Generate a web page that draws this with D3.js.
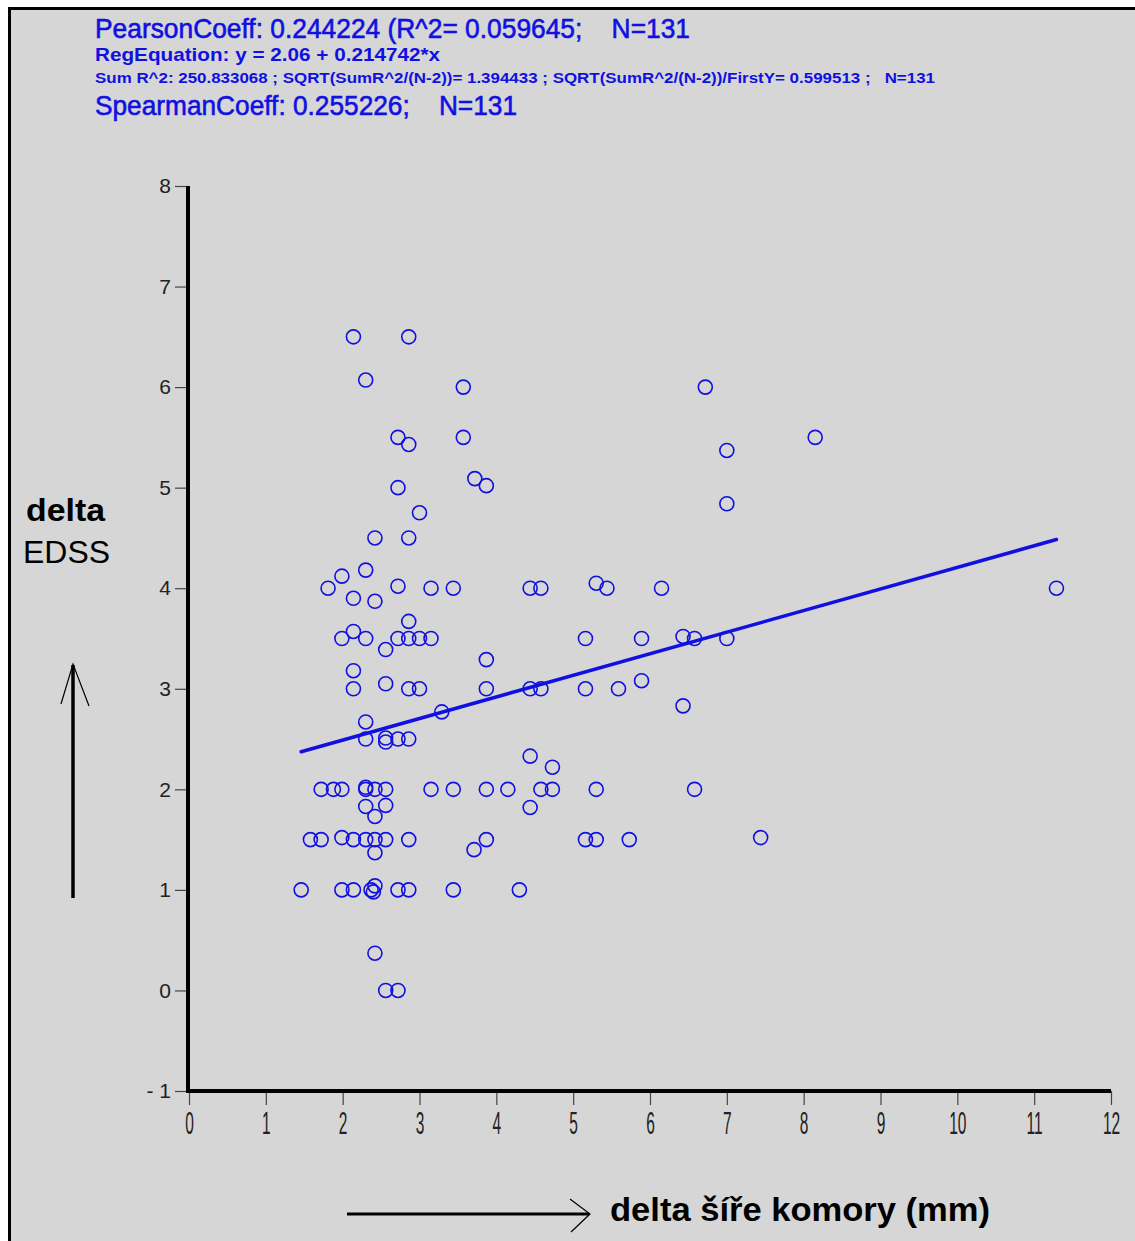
<!DOCTYPE html>
<html>
<head>
<meta charset="utf-8">
<script src="https://cdn.jsdelivr.net/npm/d3@7"></script>
<style>
  html, body { margin: 0; padding: 0; background: #ffffff; }
  svg { display: block; }
</style>
</head>
<body>
<script>
// ---- data ----
const deltaWidth = [
  2.14, 2.86, 2.30, 3.57, 6.72,
  2.72, 2.86, 3.57, 8.15, 7.00,
  3.72, 3.87, 2.72, 3.00, 7.00,
  2.42, 2.86, 2.30, 1.99, 1.81,
  2.14, 2.42, 2.72, 3.15, 3.44,
  4.44, 4.58, 5.30, 5.44, 6.15, 11.29,
  2.14, 1.99, 2.30, 2.86, 2.72, 2.86, 3.00, 3.15, 2.56,
  5.16, 5.89, 6.43, 6.58, 7.00,
  2.14, 2.14, 2.56, 2.86, 3.00,
  3.87, 3.87, 4.44, 4.58, 5.16, 5.59, 5.89, 6.43,
  3.29, 2.30, 2.30, 2.56, 2.56, 2.72, 2.86,
  4.44, 4.73,
  1.72, 1.88, 1.99, 2.30, 2.30, 2.42, 2.56, 3.15, 3.44, 3.87, 4.15, 4.58, 4.73, 5.30, 6.58,
  2.30, 2.56, 2.42, 4.44,
  1.58, 1.72, 1.99, 2.14, 2.30, 2.42, 2.56, 2.86, 2.42, 3.87, 3.71, 5.16, 5.30, 5.73, 7.44,
  1.46, 1.99, 2.14, 2.37, 2.42, 2.40, 2.72, 2.86, 3.44, 4.30,
  2.42, 2.56, 2.72
];
const deltaEDSS = [
  6.50, 6.50, 6.07, 6.00, 6.00,
  5.50, 5.43, 5.50, 5.50, 5.37,
  5.09, 5.02, 5.00, 4.75, 4.84,
  4.50, 4.50, 4.18, 4.12, 4.00,
  3.90, 3.87, 4.02, 4.00, 4.00,
  4.00, 4.00, 4.05, 4.00, 4.00, 4.00,
  3.57, 3.50, 3.50, 3.67, 3.50, 3.50, 3.50, 3.50, 3.39,
  3.50, 3.50, 3.52, 3.50, 3.50,
  3.18, 3.00, 3.05, 3.00, 3.00,
  3.29, 3.00, 3.00, 3.00, 3.00, 3.00, 3.08, 2.83,
  2.77, 2.67, 2.50, 2.51, 2.47, 2.50, 2.50,
  2.33, 2.22,
  2.00, 2.00, 2.00, 2.02, 2.00, 2.00, 2.00, 2.00, 2.00, 2.00, 2.00, 2.00, 2.00, 2.00, 2.00,
  1.83, 1.84, 1.73, 1.82,
  1.50, 1.50, 1.52, 1.50, 1.50, 1.50, 1.50, 1.50, 1.37, 1.50, 1.40, 1.50, 1.50, 1.50, 1.52,
  1.00, 1.00, 1.00, 1.00, 1.04, 0.98, 1.00, 1.00, 1.00, 1.00,
  0.37, 0.00, 0.00
];
const regIntercept = 2.06;
const regSlope = 0.214742;
const regRange = [1.46, 11.29];

const xTicks = [0,1,2,3,4,5,6,7,8,9,10,11,12];
const yTicks = [-1,0,1,2,3,4,5,6,7,8];

const headerLines = [
  "PearsonCoeff: 0.244224 (R^2= 0.059645;    N=131",
  "RegEquation: y = 2.06 + 0.214742*x",
  "Sum R^2: 250.833068 ; SQRT(SumR^2/(N-2))= 1.394433 ; SQRT(SumR^2/(N-2))/FirstY= 0.599513 ;   N=131",
  "SpearmanCoeff: 0.255226;    N=131"
];
const yLabelLines = ["delta", "EDSS"];
const xLabel = "delta šíře komory (mm)";

// ---- drawing ----
const W = 1135, H = 1241;
const svg = d3.select("body").append("svg").attr("width", W).attr("height", H);

svg.append("rect").attr("x", 0).attr("y", 0).attr("width", W).attr("height", H).attr("fill", "#ffffff");
svg.append("rect").attr("x", 9.5).attr("y", 8.5).attr("width", W + 20).attr("height", H + 20)
  .attr("fill", "#d6d6d6").attr("stroke", "#000").attr("stroke-width", 3);

const x = d3.scaleLinear().domain([0, 12]).range([189, 1111]);
const y = d3.scaleLinear().domain([-1, 8]).range([1091, 186]);

const blue = "#1010e0";

// header
const hdr = [
  {t: headerLines[0], y: 38, fs: 28, w: "normal", len: 595, sw: 0.6},
  {t: headerLines[1], y: 61, fs: 19, w: "bold", len: 345, sw: 0},
  {t: headerLines[2], y: 83, fs: 14, w: "bold", len: 840, sw: 0},
  {t: headerLines[3], y: 115, fs: 28, w: "normal", len: 422, sw: 0.6}
];
svg.append("g").selectAll("text").data(hdr).join("text")
  .attr("x", 95).attr("y", d => d.y)
  .attr("font-family", "Liberation Sans, Arial, sans-serif")
  .attr("font-size", d => d.fs).attr("font-weight", d => d.w)
  .attr("fill", blue).attr("stroke", blue).attr("stroke-width", d => d.sw)
  .attr("textLength", d => d.len).attr("lengthAdjust", "spacingAndGlyphs")
  .attr("xml:space", "preserve")
  .style("white-space", "pre")
  .text(d => d.t);

// y axis
const yAxis = svg.append("g").attr("transform", `translate(${x(0)},0)`)
  .call(d3.axisLeft(y).tickValues(yTicks).tickSize(14).tickSizeOuter(0).tickPadding(4).tickFormat(d => d < 0 ? "- " + Math.abs(d) : d));
yAxis.select(".domain").remove();
yAxis.selectAll(".tick line").attr("stroke", "#444").attr("stroke-width", 1.2);
yAxis.selectAll(".tick text").attr("font-family", "Liberation Sans, Arial, sans-serif")
  .attr("font-size", 21).attr("fill", "#222");

// x axis
const xAxis = svg.append("g").attr("transform", `translate(0,${y(-1)})`)
  .call(d3.axisBottom(x).tickValues(xTicks).tickSize(14).tickSizeOuter(0).tickPadding(7));
xAxis.select(".domain").remove();
xAxis.selectAll(".tick line").attr("stroke", "#444").attr("stroke-width", 1.2);
xAxis.selectAll(".tick text").attr("font-family", "Liberation Sans, Arial, sans-serif")
  .attr("font-size", 31).attr("fill", "#222")
  .attr("transform", "scale(0.5,1)");

// thick axis lines
svg.append("line").attr("x1", x(0) - 1).attr("x2", x(0) - 1).attr("y1", y(8)).attr("y2", y(-1) + 2)
  .attr("stroke", "#000").attr("stroke-width", 4);
svg.append("line").attr("x1", x(0) - 1).attr("x2", x(12)).attr("y1", y(-1)).attr("y2", y(-1))
  .attr("stroke", "#000").attr("stroke-width", 4);

// regression line
const regLine = d3.line().x(d => x(d)).y(d => y(regIntercept + regSlope * d));
svg.append("path").attr("d", regLine(regRange)).attr("fill", "none")
  .attr("stroke", blue).attr("stroke-width", 3.5).attr("stroke-linecap", "round");

// points
const pts = deltaWidth.map((v, i) => [v, deltaEDSS[i]]);
svg.append("g").selectAll("circle").data(pts).join("circle")
  .attr("cx", d => x(d[0])).attr("cy", d => y(d[1])).attr("r", 7)
  .attr("fill", "none").attr("stroke", blue).attr("stroke-width", 1.6);

// y label
svg.append("text").attr("x", 26).attr("y", 521)
  .attr("font-family", "Liberation Sans, Arial, sans-serif").attr("font-size", 31).attr("font-weight", "bold")
  .attr("fill", "#000").attr("textLength", 79).attr("lengthAdjust", "spacingAndGlyphs").text(yLabelLines[0]);
svg.append("text").attr("x", 23).attr("y", 563)
  .attr("font-family", "Liberation Sans, Arial, sans-serif").attr("font-size", 31)
  .attr("fill", "#000").attr("textLength", 87).attr("lengthAdjust", "spacingAndGlyphs").text(yLabelLines[1]);

// vertical arrow
svg.append("line").attr("x1", 73).attr("x2", 73).attr("y1", 898).attr("y2", 665)
  .attr("stroke", "#000").attr("stroke-width", 3.5);
svg.append("path").attr("d", "M61,704 L73,664 L89,706").attr("fill", "none")
  .attr("stroke", "#000").attr("stroke-width", 1.2);

// horizontal arrow
svg.append("line").attr("x1", 347).attr("x2", 589).attr("y1", 1214).attr("y2", 1214)
  .attr("stroke", "#000").attr("stroke-width", 3);
svg.append("path").attr("d", "M570,1199 L590,1214 L571,1232").attr("fill", "none")
  .attr("stroke", "#000").attr("stroke-width", 1.2);

// x label
svg.append("text").attr("x", 610).attr("y", 1221)
  .attr("font-family", "Liberation Sans, Arial, sans-serif").attr("font-size", 33).attr("font-weight", "bold")
  .attr("fill", "#000").attr("textLength", 380).attr("lengthAdjust", "spacingAndGlyphs").text(xLabel);
</script>
</body>
</html>
